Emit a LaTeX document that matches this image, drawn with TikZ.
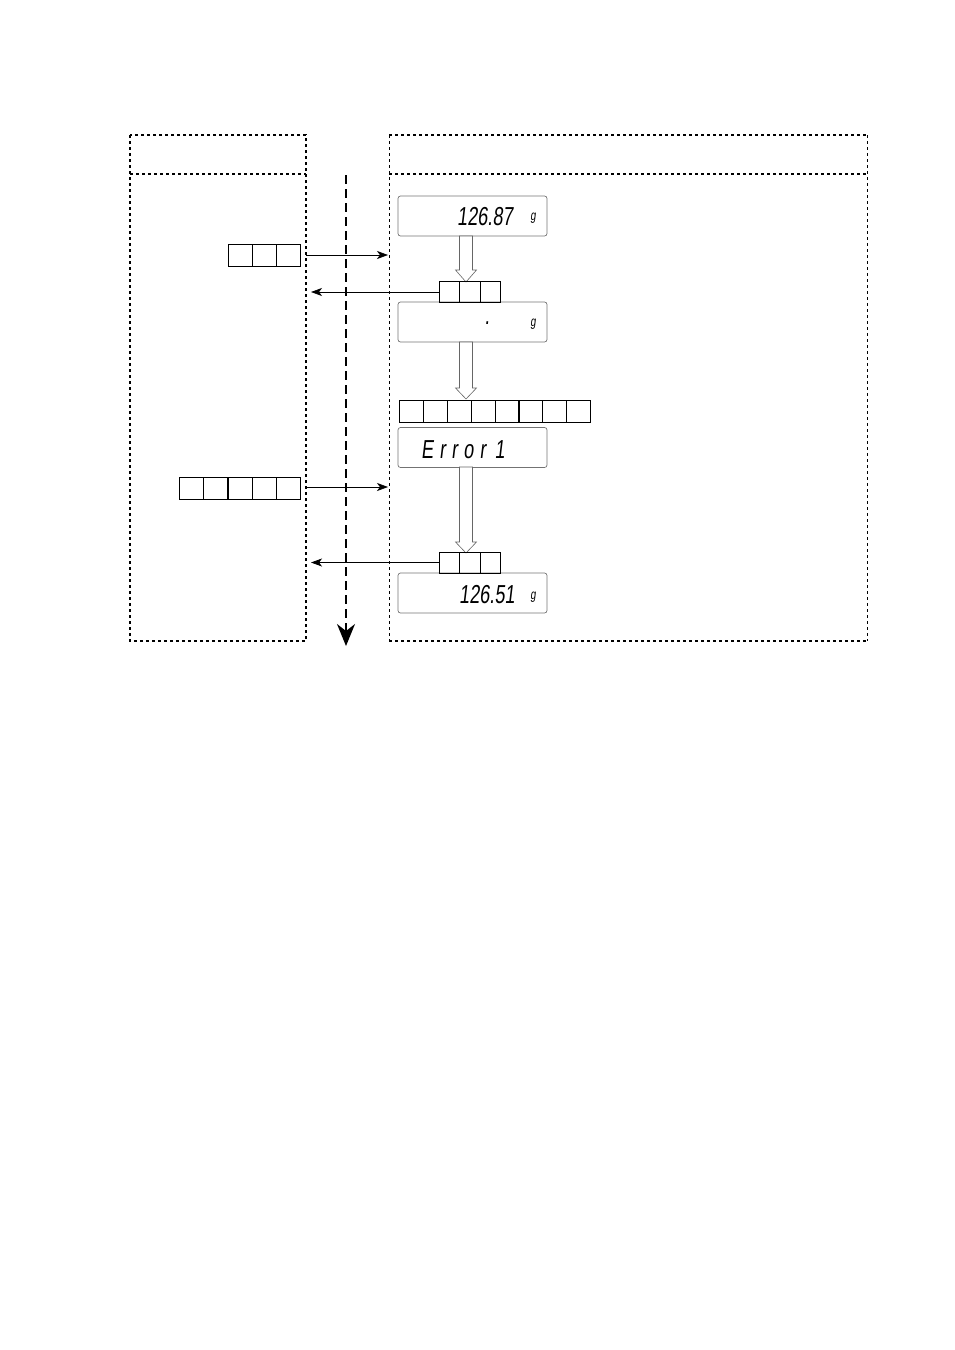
\documentclass[tikz,border=0pt]{standalone}
\usepackage{fontspec}
\usetikzlibrary{arrows.meta,matrix}
\newfontfamily\lcd[FakeSlant=0.12,FakeStretch=0.7]{Liberation Sans}
\tikzset{
  thickdot/.style={line width=1.6pt,dash pattern=on 3pt off 3pt},
  thindot/.style={line width=0.9pt,dash pattern=on 3pt off 3pt},
  disp/.style={draw=black!55,rounded corners=2.5pt,line width=0.7pt,minimum width=149pt,minimum height=40pt,inner sep=0pt},
  cell/.style={draw,line width=0.8pt,minimum width=24pt,minimum height=22pt,inner sep=0pt},
  cellb/.style={draw,line width=0.8pt,minimum width=20.7pt,minimum height=21pt,inner sep=0pt},
  msg/.style={-{Stealth[length=11pt,width=8pt,inset=3pt]},line width=0.7pt},
  hollow/.style={draw=black!60,fill=white,line width=0.6pt},
  digits/.style={font=\lcd\fontsize{26}{26}\selectfont,inner sep=0pt,anchor=east},
  unit/.style={font=\lcd\fontsize{14}{14}\selectfont,inner sep=0pt},
}
\begin{document}
\begin{tikzpicture}[x=1pt,y=-1pt]
\useasboundingbox (0,0) rectangle (954,1350);
% left lane
\draw[thickdot] (130,135) rectangle (306,641);
\draw[thickdot] (130,174) -- (306,174);
% right lane
\draw[thickdot] (389,135) -- (867,135);
\draw[thickdot] (389,641) -- (867,641);
\draw[thickdot] (389,174) -- (867,174);
\draw[thindot] (389,135) -- (389,641);
\draw[thindot] (867,135) -- (867,641);
% time axis
\coordinate (t0) at (346,175);
\coordinate (t1) at (346,646);
\draw[line width=1.5pt,dash pattern=on 9pt off 5pt,-{Stealth[length=22pt,width=18pt,inset=7pt]}] (t0) -- (t1);

% displays
\node[disp] (d1) at (472.5,216) {};
\node[digits] at (513,217) {126.87};
\node[unit] at (533,218) {g};
\node[disp] (d2) at (472.5,322) {};
\node[digits] at (490,323) {.};
\node[unit] at (533,324) {g};
\node[disp] (d3) at (472.5,447.5) {};
\node[font=\lcd\fontsize{26}{26}\selectfont,inner sep=0pt,anchor=west] at (421,450) {E\hspace{6pt}r\hspace{6pt}r\hspace{6pt}o\hspace{6pt}r\hspace{9pt}1};
\node[disp] (d4) at (472.5,593) {};
\node[digits] at (515,595) {126.51};
\node[unit] at (533,597) {g};

% hollow arrows
\draw[hollow] (459.5,236) -- (472.5,236) -- (472.5,270) -- (476.5,270) -- (466,282) -- (455.5,270) -- (459.5,270) -- cycle;
\draw[hollow] (459.5,342) -- (472.5,342) -- (472.5,388) -- (476.5,388) -- (466,399) -- (455.5,388) -- (459.5,388) -- cycle;
\draw[hollow] (459.5,467) -- (472.5,467) -- (472.5,542) -- (476.5,542) -- (466,553) -- (455.5,542) -- (459.5,542) -- cycle;

% command boxes left
\begin{scope}[every node/.style={cell}]
\node (a1) at (240,255) {};
\node (a2) at (264,255) {};
\node (a3) at (288,255) {};
\node (b1) at (191,488) {};
\node (b2) at (215,488) {};
\node (b3) at (240,488) {};
\node (b4) at (264,488) {};
\node (b5) at (288,488) {};
\end{scope}
% response boxes right
\begin{scope}[every node/.style={cellb}]
\node (r1) at (449.5,292) {};
\node (r2) at (470,292) {};
\node (r3) at (490.5,292) {};
\node (s1) at (449.5,562.5) {};
\node (s2) at (470,562.5) {};
\node (s3) at (490.5,562.5) {};
\end{scope}
\begin{scope}[every node/.style={draw,line width=0.8pt,minimum width=23.9pt,minimum height=22pt,inner sep=0pt}]
\node (e1) at (411,411) {};
\node (e2) at (435,411) {};
\node (e3) at (459,411) {};
\node (e4) at (483,411) {};
\node (e5) at (507,411) {};
\node (e6) at (530.5,411) {};
\node (e7) at (554.5,411) {};
\node (e8) at (578.5,411) {};
\end{scope}

% messages
\coordinate (rin1) at (388,255);
\coordinate (rin2) at (388,487);
\coordinate (lin1) at (311,292);
\coordinate (lin2) at (311,562.5);
\draw[msg] (306,255) -- (rin1);
\draw[msg] (306,487) -- (rin2);
\draw[msg] (r1.west) -- (lin1);
\draw[msg] (s1.west) -- (lin2);
\end{tikzpicture}
\end{document}
